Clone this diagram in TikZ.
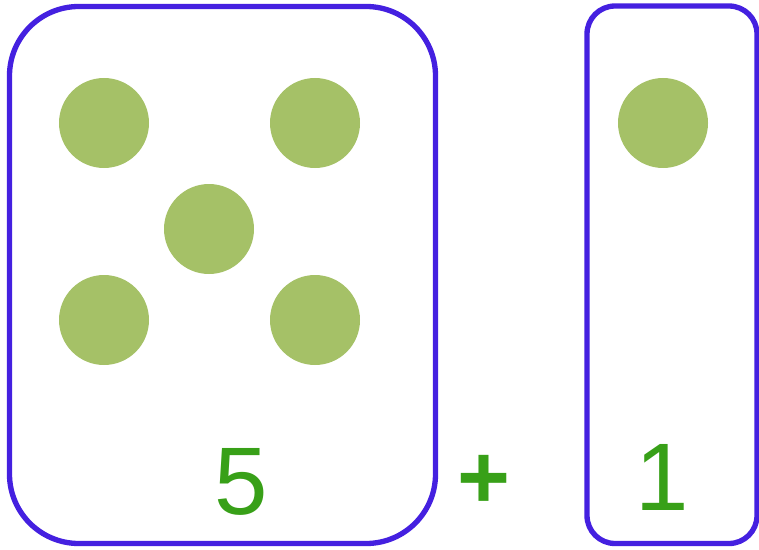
\documentclass[tikz,border=0pt]{standalone}
\usepackage{fontspec}
\setmainfont{Liberation Sans}
\usetikzlibrary{positioning}
\definecolor{frameblue}{HTML}{4420E0}
\definecolor{dotgreen}{HTML}{A5C167}
\definecolor{numgreen}{HTML}{38A018}

\begin{document}
\begin{tikzpicture}[
    x=0.75pt, y=-0.75pt,
    frame/.style={draw=frameblue, line width=4pt},
    dot/.style={circle, fill=dotgreen, minimum size=67.5pt, inner sep=0pt},
    num/.style={text=numgreen, font=\fontsize{72}{72}\selectfont, anchor=base, inner sep=0pt}
  ]
    \useasboundingbox (0,0) rectangle (759,549);

    % the two frames
    \draw[frame, rounded corners=52pt] (9.5,6.5) rectangle (435.5,543.5);
    \draw[frame, rounded corners=21pt] (587,6) rectangle (757,543.5);

    % dots of the five
    \node[dot] (d1) at (104,123) {};
    \node[dot] (d2) at (315,123) {};
    \node[dot] (d3) at (209,229) {};
    \node[dot] (d4) at (104,320) {};
    \node[dot] (d5) at (315,320) {};

    % dot of the one
    \node[dot] (e1) at (663,123) {};

    \node[num] (five) at (241,514) {5};
    \node[num] (one) at (662,510) {1};
    \node[text=numgreen, font=\fontsize{68}{68}\selectfont\bfseries, inner sep=0pt] (plus) at (484,482) {+};
  \end{tikzpicture}
\end{document}
